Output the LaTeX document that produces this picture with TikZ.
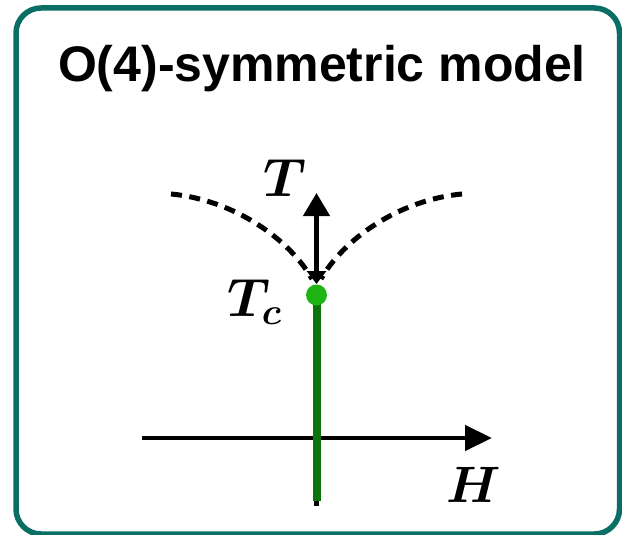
\documentclass[tikz,border=0pt]{standalone}
\usepackage{fontspec}
\usepackage{bm}
\newfontfamily\titlefont{Liberation Sans}
\usetikzlibrary{calc,arrows.meta}
\definecolor{frameteal}{RGB}{10,110,100}
\definecolor{dotgreen}{RGB}{30,180,20}
\definecolor{linegreen}{RGB}{10,115,10}
\tikzset{
    lab/.style={
        font=\huge, scale=2.6, inner sep=0pt
    },
    ttl/.style={
        font=\titlefont\bfseries\fontsize{50}{60}\selectfont, inner sep=0pt
    },
    axis/.style={line width=4.5pt},
    crit/.style={line width=5pt, dash pattern=on 11pt off 7.5pt}
}

\begin{document}
\begin{tikzpicture}[x=1pt,y=-1pt,line join=round]
\useasboundingbox (0,0) rectangle (622,535);

% --- geometry ---
    \def\X{316.5}                      % vertical axis
    \coordinate (tc)    at (\X,295);   % critical point
    \coordinate (ttop)  at (\X,193);   % tip of T axis
    \coordinate (tlow)  at (\X,284);   % lower tip, at T_c
    \coordinate (vbot)  at (\X,506);   % foot of vertical axis
    \coordinate (gbot)  at (\X,501);   % foot of green line
    \coordinate (hl)    at (142,438);  % H axis start
    \coordinate (hr)    at (492,438);  % H axis tip
    \coordinate (ls)    at (171,194);  % left crossover line
    \coordinate (le)    at (312,279);
    \coordinate (rs)    at (462,194);  % right crossover line
    \coordinate (re)    at (321,279);

% frame
    \draw[frameteal, line width=5.5pt, rounded corners=25pt] (16,8) rectangle (619.5,534);

% title
    \node[ttl, anchor=base] (title) at (322,82) {O(4)-symmetric model};

% axes
    \draw[axis] (vbot) -- (tc);
    \draw[axis, -{Triangle[length=27pt,width=25pt]}] (hl) -- (hr);

% first-order line and critical point
    \draw[linegreen, line width=8pt] (gbot) -- (tc);
    \node[circle, fill=dotgreen, minimum size=21pt, inner sep=0pt] (dot) at (tc) {};

% T axis
    \draw[axis, {Triangle[length=13pt,width=19pt]}-{Triangle[length=23pt,width=26pt]}] (tlow) -- (ttop);

% crossover lines
    \draw[crit] (ls) .. controls (235,200) and (290,240) .. (le);
    \draw[crit] (rs) .. controls (398,200) and (343,240) .. (re);

% labels
    \node[lab] (tlab)  at ($ (ttop) + (-31.5,-15) $) {$\bm{T}$};
    \node[lab] (tclab) at ($ (tc) + (-61.5,7) $) {$\bm{T_c}$};
    \node[lab, scale=0.95] (hlab) at ($ (hr) + (-18,46.5) $) {$\bm{H}$};

\end{tikzpicture}
\end{document}
